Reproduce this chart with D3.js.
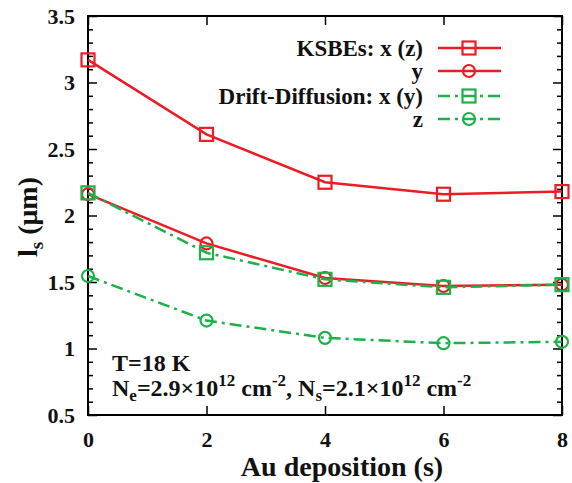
<!DOCTYPE html>
<html>
<head>
<meta charset="utf-8">
<script src="https://cdn.jsdelivr.net/npm/d3@7"></script>
<style>
  body { margin: 0; background: #fff; }
</style>
</head>
<body>
<div id="chart"></div>
<script>
const deposition = [0, 2, 4, 6, 8];
const ksbeXZ = [3.17, 2.61, 2.25, 2.16, 2.18];
const ksbeY = [2.16, 1.79, 1.53, 1.47, 1.48];
const ddXY = [2.17, 1.72, 1.52, 1.46, 1.48];
const ddZ = [1.545, 1.21, 1.08, 1.04, 1.05];
const yTicks = [0.5, 1, 1.5, 2, 2.5, 3, 3.5];
const xTicks = [0, 2, 4, 6, 8];

const FONT = "'Liberation Serif', 'Times New Roman', Times, serif";
const red = '#ec1c24';
const green = '#1db04b';

const series = [
  { id: 'kxz', label: 'KSBEs: x (z)', values: ksbeXZ, color: red, dash: null, marker: 'square' },
  { id: 'ky', label: 'y', values: ksbeY, color: red, dash: null, marker: 'circle' },
  { id: 'dxy', label: 'Drift-Diffusion: x (y)', values: ddXY, color: green, dash: '12,5,3,5', marker: 'square' },
  { id: 'dz', label: 'z', values: ddZ, color: green, dash: '12,5,3,5', marker: 'circle' },
];

const W = 572, H = 483;
const margin = { top: 16, right: 10, bottom: 68, left: 88 };
const width = W - margin.left - margin.right;
const height = H - margin.top - margin.bottom;

const svg = d3.select('#chart').append('svg')
  .attr('width', W).attr('height', H)
  .style('font-family', FONT)
  .style('font-weight', 'bold');
const g = svg.append('g')
  .attr('transform', `translate(${margin.left},${margin.top})`);

const x = d3.scaleLinear().domain([0, 8]).range([0, width]);
const y = d3.scaleLinear().domain([0.5, 3.5]).range([height, 0]);

// minor ticks every 0.1 on y
const yMinor = d3.range(5, 35).map(v => v / 10).filter(v => !yTicks.some(t => Math.abs(t - v) < 1e-6));

const tickStyle = sel => {
  sel.attr('font-family', null).attr('font-size', null);
  sel.select('.domain').remove();
  sel.selectAll('line').attr('stroke', '#000').attr('stroke-width', 1.5);
  sel.selectAll('text').attr('fill', '#111').style('font-size', '22px');
};

// left axis with labels
g.append('g')
  .call(d3.axisLeft(y).tickValues(yTicks).tickSize(-9).tickPadding(13).tickFormat(d3.format('')))
  .call(tickStyle);
g.append('g').call(d3.axisLeft(y).tickValues(yMinor).tickSize(-5).tickFormat(''))
  .call(tickStyle);
// right axis
g.append('g').attr('transform', `translate(${width},0)`)
  .call(d3.axisRight(y).tickValues(yTicks).tickSize(-9).tickFormat(''))
  .call(tickStyle);
g.append('g').attr('transform', `translate(${width},0)`)
  .call(d3.axisRight(y).tickValues(yMinor).tickSize(-5).tickFormat(''))
  .call(tickStyle);
// bottom axis
g.append('g').attr('transform', `translate(0,${height})`)
  .call(d3.axisBottom(x).tickValues(xTicks).tickSize(-9).tickPadding(16))
  .call(tickStyle);
// top axis
g.append('g')
  .call(d3.axisTop(x).tickValues(xTicks).tickSize(-9).tickFormat(''))
  .call(tickStyle);

g.append('rect')
  .attr('width', width).attr('height', height)
  .attr('fill', 'none').attr('stroke', '#000').attr('stroke-width', 2);

const line = d3.line()
  .x((d, i) => x(deposition[i]))
  .y(d => y(d));

const drawMarker = (sel, s, cx, cy) => {
  if (s.marker === 'square') {
    sel.append('rect')
      .attr('x', cx - 6.5).attr('y', cy - 6.5)
      .attr('width', 13).attr('height', 13)
      .attr('fill', 'none').attr('stroke', s.color).attr('stroke-width', 2.2);
  } else {
    sel.append('circle')
      .attr('cx', cx).attr('cy', cy).attr('r', 6)
      .attr('fill', 'none').attr('stroke', s.color).attr('stroke-width', 2.2);
  }
};

series.forEach(s => {
  const sg = g.append('g').attr('class', 'series');
  sg.append('path')
    .attr('d', line(s.values))
    .attr('fill', 'none')
    .attr('stroke', s.color)
    .attr('stroke-width', 2.5)
    .attr('stroke-dasharray', s.dash);
  s.values.forEach((v, i) => drawMarker(sg, s, x(deposition[i]), y(v)));
});

// legend
const legend = svg.append('g');
const legY = [48, 71, 96, 119];
series.forEach((s, i) => {
  const ly = legY[i];
  legend.append('text')
    .attr('x', 423).attr('y', ly + 8)
    .attr('text-anchor', 'end')
    .attr('fill', '#111')
    .style('font-size', '23px')
    .text(s.label);
  legend.append('line')
    .attr('x1', 438).attr('x2', 501).attr('y1', ly).attr('y2', ly)
    .attr('stroke', s.color).attr('stroke-width', 2.5)
    .attr('stroke-dasharray', s.dash);
  drawMarker(legend, s, 469, ly);
});

// annotation
const ann = svg.append('g').style('font-size', '24px').attr('fill', '#111');
ann.append('text').attr('x', 112).attr('y', 371).text('T=18 K');
const t2 = ann.append('text').attr('x', 112).attr('y', 396);
const sub = (t, txt) => t.append('tspan').attr('dy', 5).style('font-size', '17px').text(txt);
const sup = (t, txt) => t.append('tspan').attr('dy', -10).style('font-size', '17px').text(txt);
t2.append('tspan').text('N');
sub(t2, 'e');
t2.append('tspan').attr('dy', -5).text('=2.9\u00d710');
sup(t2, '12');
t2.append('tspan').attr('dy', 10).text(' cm');
sup(t2, '-2');
t2.append('tspan').attr('dy', 10).text(', N');
sub(t2, 's');
t2.append('tspan').attr('dy', -5).text('=2.1\u00d710');
sup(t2, '12');
t2.append('tspan').attr('dy', 10).text(' cm');
sup(t2, '-2');

// axis titles
svg.append('text')
  .attr('x', margin.left + width / 2 + 17).attr('y', 476)
  .attr('text-anchor', 'middle')
  .attr('fill', '#111')
  .style('font-size', '28px')
  .text('Au deposition (s)');

const yt = svg.append('text')
  .attr('transform', `translate(37,217) rotate(-90)`)
  .attr('text-anchor', 'middle')
  .attr('fill', '#111')
  .style('font-size', '28px');
yt.append('tspan').text('l');
yt.append('tspan').attr('dy', 6).style('font-size', '19px').text('s');
yt.append('tspan').attr('dy', -6).text(' (\u03bcm)');
</script>
</body>
</html>
